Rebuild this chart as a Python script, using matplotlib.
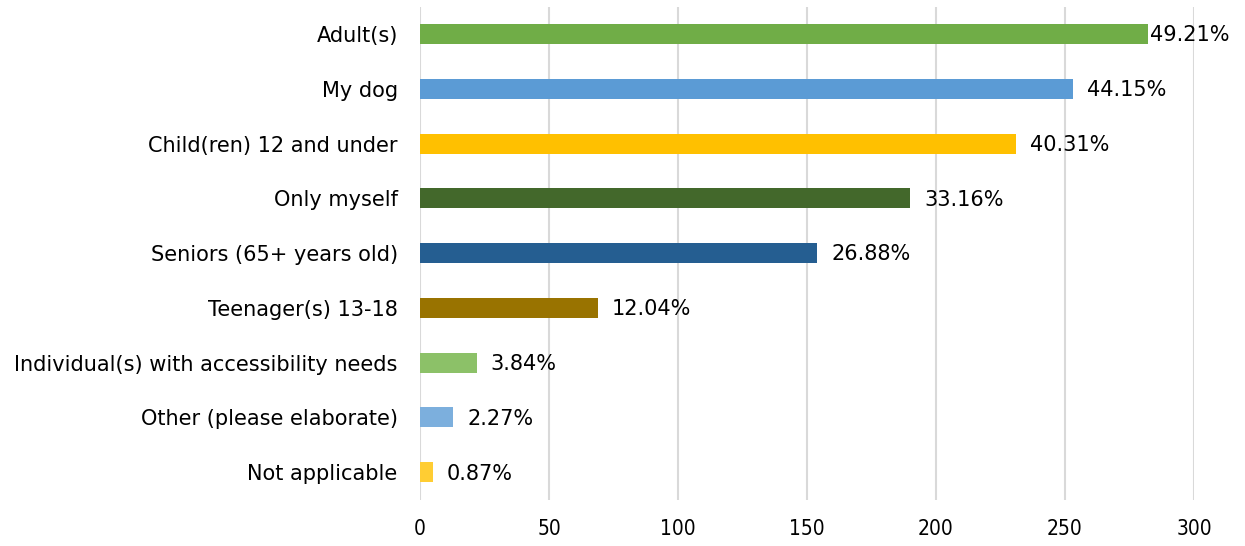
import numpy as np
import matplotlib.pyplot as plt

categories = ['Adult(s)', 'My dog', 'Child(ren) 12 and under', 'Only myself',
              'Seniors (65+ years old)', 'Teenager(s) 13-18',
              'Individual(s) with accessibility needs', 'Other (please elaborate)',
              'Not applicable']
counts = [282, 253, 231, 190, 154, 69, 22, 13, 5]
percent_labels = ['49.21%', '44.15%', '40.31%', '33.16%', '26.88%', '12.04%',
                  '3.84%', '2.27%', '0.87%']
colors = ['#70AD47', '#5B9BD5', '#FFC000', '#43682B', '#255E91', '#997300',
          '#8CC168', '#7CAFDD', '#FFCD33']

plt.rcParams['font.family'] = ['DejaVu Sans']

fig = plt.figure(figsize=(12.45, 5.46), dpi=100)
ax = fig.add_axes([0.3373, 0.085, 0.6217, 0.903])

y = np.arange(len(categories))
ax.barh(y, counts, height=0.365, color=colors, zorder=3)

for yi, c, lab in zip(y, counts, percent_labels):
    # the longest bar's label is squeezed against the right edge
    off = 1.5 if c > 270 else 10
    ax.annotate(lab, (c, yi), xytext=(off, -1), textcoords='offset points',
                va='center', ha='left', fontsize=15, color='#000000')

ax.set_yticks(y)
ax.set_yticklabels(categories, fontsize=15)
ax.set_ylim(len(categories) - 0.5, -0.5)
ax.set_xlim(0, 300)
ax.set_xticks(np.arange(0, 301, 50))
ax.tick_params(axis='x', labelsize=15, length=0, pad=14)
for t in ax.get_xticklabels():
    t.set_fontstretch('condensed')
ax.tick_params(axis='y', length=0, pad=16)
ax.grid(axis='x', color='#D9D9D9', linewidth=1.5, zorder=0)
for s in ax.spines.values():
    s.set_visible(False)

fig.savefig('out.png', dpi=100)
